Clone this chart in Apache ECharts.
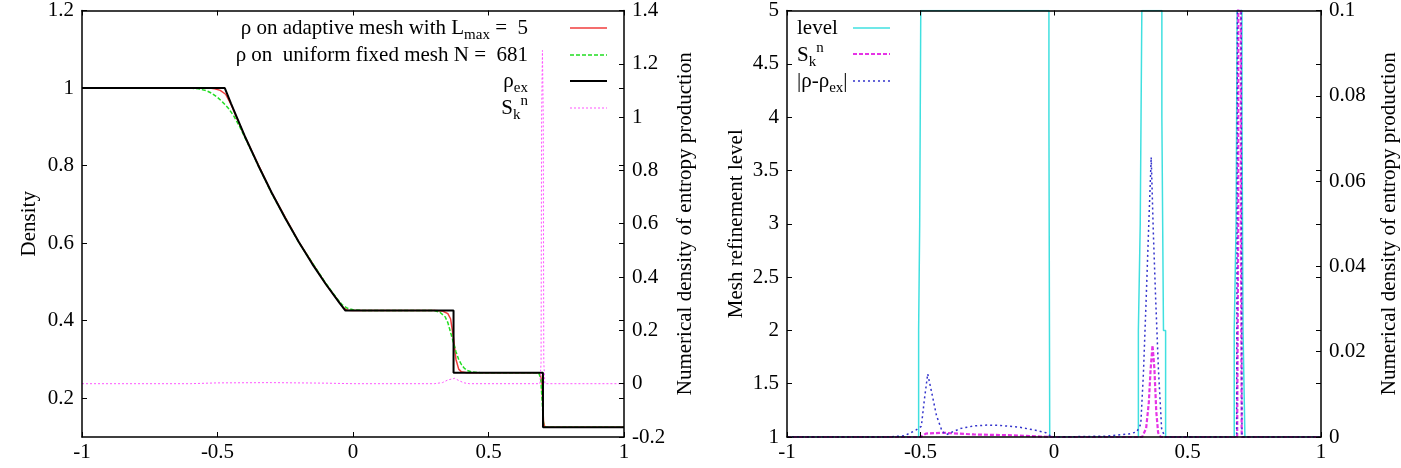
<!DOCTYPE html>
<html>
<head>
<meta charset="utf-8">
<script src="https://cdn.jsdelivr.net/npm/echarts@6/dist/echarts.min.js"></script>
<style>
  html, body { margin: 0; padding: 0; background: #fff; }
  #chart { width: 1401px; height: 468px; }
</style>
</head>
<body>
<div id="chart"></div>
<script>
// left panel: density (left axis) and entropy production (right axis)
const exactRho = [[-1, 1], [-0.473, 1], [-0.45, 0.960], [-0.4, 0.877], [-0.35, 0.801], [-0.3, 0.730],
  [-0.25, 0.664], [-0.2, 0.603], [-0.15, 0.546], [-0.1, 0.494], [-0.05, 0.446], [-0.028, 0.426],
  [0.371, 0.426], [0.371, 0.266], [0.701, 0.266], [0.701, 0.125], [1, 0.125]];

const adaptiveRho = [[-1, 1], [-0.53, 1], [-0.51, 0.998], [-0.49, 0.994], [-0.47, 0.984], [-0.45, 0.958],
  [-0.43, 0.924], [-0.4, 0.877], [-0.3, 0.730], [-0.2, 0.603], [-0.1, 0.494], [-0.05, 0.447],
  [-0.035, 0.433], [-0.02, 0.427], [0, 0.426], [0.3, 0.426], [0.33, 0.425], [0.35, 0.418],
  [0.36, 0.405], [0.37, 0.36], [0.38, 0.30], [0.39, 0.275], [0.40, 0.268], [0.42, 0.266],
  [0.69, 0.266], [0.697, 0.24], [0.70, 0.19], [0.703, 0.14], [0.708, 0.125], [1, 0.125]];

const uniformRho = [[-1, 1], [-0.6, 1], [-0.57, 0.998], [-0.54, 0.993], [-0.52, 0.986], [-0.5, 0.976],
  [-0.48, 0.963], [-0.46, 0.948], [-0.44, 0.928], [-0.42, 0.903], [-0.4, 0.874], [-0.3, 0.728],
  [-0.2, 0.602], [-0.1, 0.496], [-0.06, 0.458], [-0.04, 0.441], [-0.02, 0.432], [0, 0.428],
  [0.03, 0.4265], [0.3, 0.426], [0.32, 0.422], [0.34, 0.41], [0.35, 0.395], [0.36, 0.37],
  [0.37, 0.345], [0.38, 0.32], [0.39, 0.30], [0.40, 0.287], [0.41, 0.278], [0.42, 0.272],
  [0.44, 0.2675], [0.47, 0.266], [0.685, 0.266], [0.693, 0.25], [0.698, 0.19], [0.703, 0.135],
  [0.71, 0.125], [1, 0.125]];

const entropyLeft = [[-1, 0], [-0.6, 0], [-0.5, 0.003], [-0.3, 0.004], [-0.1, 0.002], [0, 0],
  [0.3, 0], [0.33, 0.004], [0.35, 0.014], [0.375, 0.02], [0.39, 0.012], [0.41, 0.003], [0.43, 0],
  [0.69, 0], [0.694, 0.08], [0.696, 1.0], [0.699, 1.25], [0.702, 1.0], [0.704, 0.08], [0.708, 0], [1, 0]];

// right panel: refinement level (left axis), entropy and error (right axis)
const meshLevel = [[-1, 1], [-0.507, 1], [-0.507, 2], [-0.503, 2], [-0.503, 3], [-0.501, 3], [-0.501, 4],
  [-0.499, 4], [-0.499, 5], [-0.019, 5], [-0.019, 4], [-0.018, 4], [-0.018, 3], [-0.017, 3],
  [-0.017, 2], [-0.016, 2], [-0.016, 1], [0.316, 1], [0.316, 2], [0.323, 2], [0.323, 3], [0.326, 3],
  [0.326, 4], [0.329, 4], [0.329, 5], [0.404, 5], [0.404, 4], [0.407, 4], [0.407, 3], [0.41, 3],
  [0.41, 2], [0.418, 2], [0.418, 1], [0.675, 1], [0.675, 2], [0.682, 2], [0.682, 3], [0.684, 3],
  [0.684, 4], [0.686, 4], [0.686, 5], [0.704, 5], [0.704, 4], [0.706, 4], [0.706, 3], [0.708, 3],
  [0.708, 2], [0.715, 2], [0.715, 1], [1, 1]];

const entropyRight = [[-1, 0], [-0.5, 0], [-0.48, 0.0008], [-0.42, 0.001], [-0.3, 0.0006], [-0.15, 0.0004],
  [-0.05, 0.0001], [0, 0], [0.33, 0], [0.345, 0.002], [0.355, 0.008], [0.362, 0.016], [0.369, 0.0215],
  [0.376, 0.016], [0.383, 0.006], [0.39, 0.001], [0.40, 0], [0.686, 0], [0.69, 0.05], [0.693, 1.2],
  [0.697, 1.25], [0.70, 0.05], [0.703, 0], [1, 0]];

const rhoError = [[-1, 0], [-0.62, 0], [-0.56, 0.0003], [-0.52, 0.0015], [-0.497, 0.0025], [-0.485, 0.009],
  [-0.473, 0.0148], [-0.46, 0.011], [-0.44, 0.005], [-0.42, 0.0015], [-0.405, 0.0005], [-0.38, 0.0012],
  [-0.35, 0.002], [-0.3, 0.0026], [-0.25, 0.0028], [-0.2, 0.0027], [-0.13, 0.0023], [-0.07, 0.0016],
  [-0.03, 0.001], [-0.015, 0.0003], [0, 0], [0.2, 0.0002], [0.28, 0.0007], [0.31, 0.0012],
  [0.325, 0.003], [0.335, 0.015], [0.345, 0.032], [0.355, 0.05], [0.364, 0.0656], [0.372, 0.048],
  [0.381, 0.032], [0.391, 0.016], [0.403, 0.002], [0.415, 0], [0.684, 0], [0.688, 0.14],
  [0.70, 0.14], [0.704, 0], [1, 0]];

const FONT = "'Liberation Serif', 'DejaVu Serif', serif";
const FS = 21;
const BLACK = '#000';

const rich = {
  n: {fontSize: FS, fontFamily: FONT, padding: [4, 0, 4, 0], verticalAlign: 'bottom', fill: BLACK},
  sub: {fontSize: 15, fontFamily: FONT, verticalAlign: 'bottom', fill: BLACK},
  sup: {fontSize: 15, fontFamily: FONT, padding: [0, 0, 14, 0], verticalAlign: 'bottom', fill: BLACK}
};

const chart = echarts.init(document.getElementById('chart'), null, {renderer: 'canvas'});

const xAxis = (grid, pos, showLabel) => ({
  gridIndex: grid, type: 'value', min: -1, max: 1, interval: 0.5, position: pos, z: 10,
  axisLine: {onZero: false, lineStyle: {color: BLACK, width: 1.5}},
  axisTick: {inside: true, length: 5, lineStyle: {color: BLACK}},
  axisLabel: {show: showLabel, fontFamily: FONT, fontSize: FS, color: BLACK, margin: 5},
  splitLine: {show: false}
});
const yAxis = (grid, pos, extra) => Object.assign({
  gridIndex: grid, type: 'value', position: pos, z: 10,
  axisLine: {show: true, onZero: false, lineStyle: {color: BLACK, width: 1.5}},
  axisTick: {show: true, inside: true, length: 5, lineStyle: {color: BLACK}},
  axisLabel: {fontFamily: FONT, fontSize: FS, color: BLACK, margin: 8},
  splitLine: {show: false},
  nameLocation: 'middle', nameRotate: 90,
  nameTextStyle: {fontFamily: FONT, fontSize: FS, color: BLACK}
}, extra);
// mirrored ticks of the left axis, drawn on the right edge without labels
const mirrorLine = {show: false, onZero: false};

const line = (x, y, data, color, width, dash) => ({
  type: 'line', xAxisIndex: x, yAxisIndex: y, data: data, showSymbol: false, symbol: 'none',
  animation: false, silent: true,
  lineStyle: {color: color, width: width, type: dash || 'solid'}
});

const legendKey = (x1, x2, y, color, width, dash) => ({
  type: 'line', shape: {x1: x1, y1: y, x2: x2, y2: y}, silent: true,
  style: {stroke: color, lineWidth: width, lineDash: dash || null}
});
const legendText = (x, y, text, align) => ({
  type: 'text', silent: true,
  style: {x: x, y: y, text: text, align: align, verticalAlign: 'middle', rich: rich,
    fontFamily: FONT, fontSize: FS, fill: BLACK}
});

const option = {
  backgroundColor: '#fff',
  animation: false,
  grid: [
    {left: 82, right: 777, top: 10, bottom: 31},
    {left: 787, right: 80, top: 10, bottom: 31}
  ],
  xAxis: [xAxis(0, 'bottom', true), xAxis(0, 'top', false), xAxis(1, 'bottom', true), xAxis(1, 'top', false)],
  yAxis: [
    yAxis(0, 'left', {min: 0.1, max: 1.2, name: 'Density', nameGap: 42,
      axisLabel: {fontFamily: FONT, fontSize: FS, color: BLACK, margin: 8, showMinLabel: false}}),
    yAxis(0, 'right', {min: -0.2, max: 1.4, interval: 0.2, name: 'Numerical density of entropy production', nameGap: 51}),
    yAxis(0, 'right', {min: 0.1, max: 1.2, axisLine: mirrorLine, axisLabel: {show: false}}),
    yAxis(1, 'left', {min: 1, max: 5, interval: 0.5, name: 'Mesh refinement level', nameGap: 40}),
    yAxis(1, 'right', {min: 0, max: 0.1, interval: 0.02, name: 'Numerical density of entropy production', nameGap: 58}),
    yAxis(1, 'right', {min: 1, max: 5, interval: 0.5, axisLine: mirrorLine, axisLabel: {show: false}})
  ],
  series: [
    line(0, 0, adaptiveRho, '#f03c3c', 1.5),
    line(0, 0, uniformRho, '#22dd22', 1.5, [4, 2]),
    line(0, 0, exactRho, BLACK, 2),
    line(0, 1, entropyLeft, '#ff55ff', 1, [2, 2]),
    line(2, 3, meshLevel, '#40e0e0', 1.5),
    line(2, 4, entropyRight, '#e633e6', 2.2, [4, 2]),
    line(2, 4, rhoError, '#3333cc', 1.5, [2, 3])
  ],
  graphic: [
    legendText(528, 28, '{n|ρ on adaptive mesh with L}{sub|max}{n| =  5}', 'right'),
    legendText(528, 55, '{n|ρ on  uniform fixed mesh N =  681}', 'right'),
    legendText(528, 81, '{n|ρ}{sub|ex}', 'right'),
    legendText(528, 108, '{n|S}{sub|k}{sup|n}', 'right'),
    legendKey(570, 607, 28, '#f03c3c', 1.5),
    legendKey(570, 607, 55, '#22dd22', 1.5, [4, 2]),
    legendKey(570, 607, 81, BLACK, 2),
    legendKey(570, 607, 108, '#ff55ff', 1, [2, 2]),
    legendText(797, 28, '{n|level}', 'left'),
    legendText(797, 55, '{n|S}{sub|k}{sup|n}', 'left'),
    legendText(797, 81, '{n||ρ-ρ}{sub|ex}{n||}', 'left'),
    legendKey(853, 890, 28, '#40e0e0', 1.5),
    legendKey(853, 890, 54, '#e633e6', 2.2, [4, 2]),
    legendKey(853, 890, 81, '#3333cc', 1.5, [2, 3])
  ]
};

chart.setOption(option);
</script>
</body>
</html>
